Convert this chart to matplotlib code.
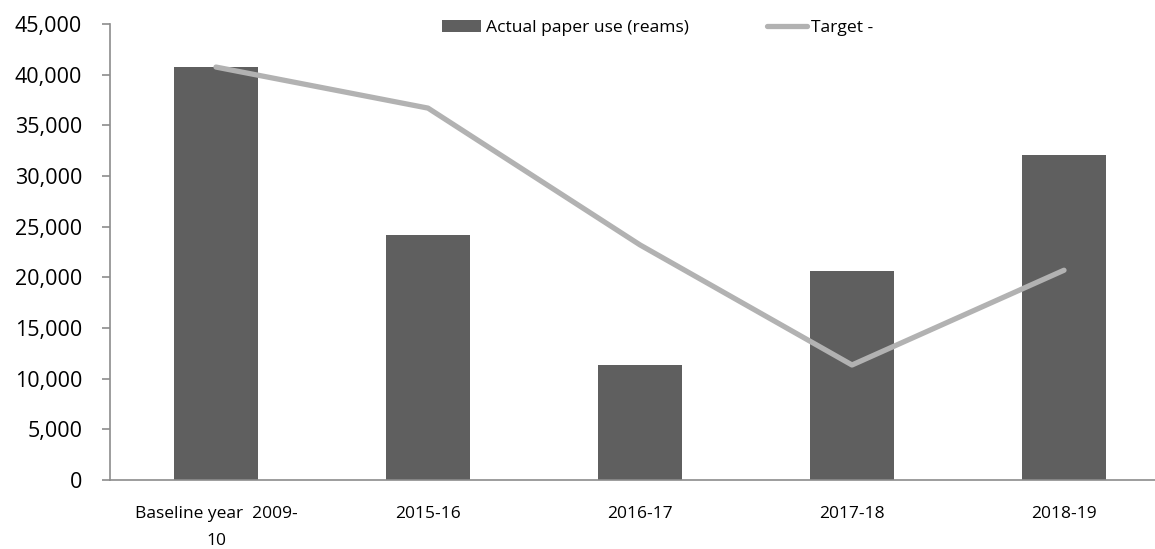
import matplotlib
matplotlib.use('Agg')
import matplotlib.pyplot as plt
from matplotlib.ticker import FuncFormatter

# Chart data
categories = ['Baseline year  2009-\n10', '2015-16', '2016-17', '2017-18', '2018-19']
actual_use = [40750, 24200, 11350, 20650, 32100]
target = [40750, 36700, 23200, 11350, 20700]

plt.rcParams['font.family'] = ['Open Sans', 'DejaVu Sans']

fig = plt.figure(figsize=(11.55, 5.49), dpi=100)
# axes runs a bit past the right edge, as in the reference
ax = fig.add_axes([110 / 1155, 1 - 480 / 549, 1060 / 1155, 456 / 549])

x = list(range(len(categories)))
bars = ax.bar(x, actual_use, width=0.4, color='#5f5f5f', label='Actual paper use (reams)', zorder=2)
line, = ax.plot(x, target, color='#b2b2b2', linewidth=3.8, solid_capstyle='round',
                label='Target -', zorder=3)

ax.set_xlim(-0.5, len(categories) - 0.5)
ax.set_ylim(0, 45000)
ax.set_yticks(range(0, 45001, 5000))
ax.yaxis.set_major_formatter(FuncFormatter(lambda v, p: f'{int(v):,}'))
ax.set_xticks(x)
ax.set_xticklabels(categories, fontsize=12.5, linespacing=1.9)

for side in ['top', 'right']:
    ax.spines[side].set_visible(False)
for side in ['left', 'bottom']:
    ax.spines[side].set_color('#8c8c8c')
    ax.spines[side].set_linewidth(1.2)
ax.tick_params(axis='y', labelsize=15.5, length=6, color='#8c8c8c', width=1.2, pad=14)
ax.tick_params(axis='x', length=0, pad=19)

fig.legend(handles=[bars, line], loc='center left', bbox_to_anchor=(442 / 1155, 1 - 28 / 549),
           ncol=2, frameon=False, fontsize=12.6, handlelength=2.25, handletextpad=0.25,
           columnspacing=4.5, borderpad=0, borderaxespad=0)

fig.savefig('out.png', dpi=100)
